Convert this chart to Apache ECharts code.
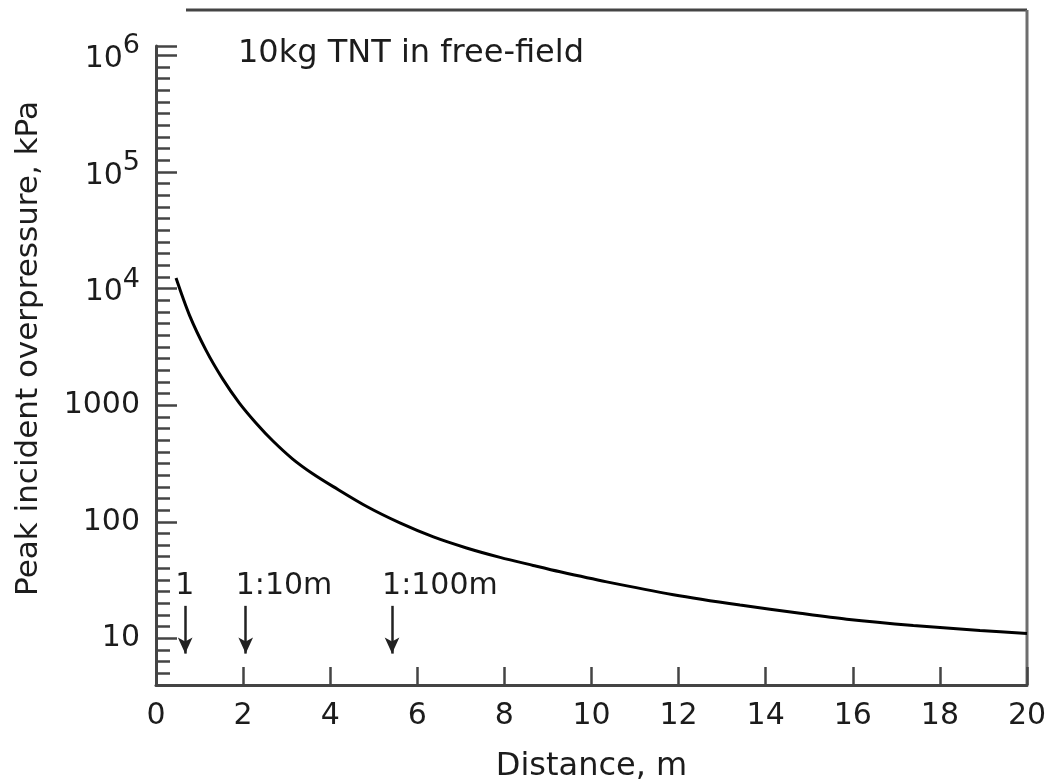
<!DOCTYPE html>
<html>
<head>
<meta charset="utf-8">
<script src="https://cdn.jsdelivr.net/npm/echarts@6/dist/echarts.min.js"></script>
<style>
  html, body { margin: 0; padding: 0; background: #fff; }
  #chart { width: 1052px; height: 780px; }
</style>
</head>
<body>
<div id="chart"></div>
<script>
// curve: distance (m) and peak overpressure (kPa)
var distance = [0.46, 0.77, 1.15, 1.53, 1.91, 2.30, 2.68, 3.14, 3.60, 4.07, 4.84, 5.60, 6.37, 7.13, 7.90, 8.66, 9.28, 10.35, 11.88, 13.41, 14.79, 15.86, 17.39, 18.92, 20];
var pressure = [12300, 5890, 2950, 1680, 1047, 700, 495, 345, 258, 200, 135, 97.7, 74.1, 59.6, 49.5, 42.2, 37.2, 30.5, 23.7, 19.3, 16.4, 14.6, 12.9, 11.7, 11.0];

// scale arrows near the bottom
var arrowX = [0.67, 2.06, 5.42];
var arrowText = ['1', '1:10m', '1:100m'];
var arrowTop = 19;
var arrowBottom = 7.4;
var arrowTextY = 28;

// axis ranges / ticks
var xTicks = [0, 2, 4, 6, 8, 10, 12, 14, 16, 18, 20];
var yLogMin = 0.6, yLogMax = 6.08;

(function () {
  var myChart = echarts.init(document.getElementById('chart'));
  var font = 'DejaVu Sans';
  var ink = '#1c1c1c';
  var axisCol = '#444';

  var curve = distance.map(function (d, i) { return [d, pressure[i]]; });
  var marks = arrowX.map(function (x, i) { return { value: [x, arrowTextY], name: arrowText[i] }; });
  var arrows = arrowX.map(function (x) {
    return [{ coord: [x, arrowTop] }, { coord: [x, arrowBottom] }];
  });

  var option = {
    animation: false,
    backgroundColor: '#fff',
    title: {
      text: '10kg TNT in free-field',
      left: 233, top: 33,
      textStyle: { fontFamily: font, fontSize: 32, fontWeight: 'normal', color: ink }
    },
    grid: { left: 156, right: 25, top: 46, bottom: 95, outerBoundsMode: 'none' },
    xAxis: {
      type: 'value',
      min: xTicks[0], max: xTicks[xTicks.length - 1], interval: 2,
      name: 'Distance, m',
      nameLocation: 'middle', nameGap: 66,
      nameTextStyle: { fontFamily: font, fontSize: 32, color: ink },
      axisLine: { lineStyle: { color: axisCol, width: 3 } },
      axisTick: { inside: true, length: 18, lineStyle: { color: axisCol, width: 2.5 } },
      axisLabel: { margin: 16, fontFamily: font, fontSize: 30, color: ink },
      splitLine: { show: false }
    },
    yAxis: [{
      type: 'log',
      logBase: 10,
      min: Math.pow(10, yLogMin), max: Math.pow(10, yLogMax),
      name: 'Peak incident overpressure, kPa',
      nameLocation: 'middle', nameGap: 112, nameRotate: 90,
      nameTextStyle: { fontFamily: font, fontSize: 31, color: ink, padding: [0, 0, 0, 34] },
      axisLine: { show: true, lineStyle: { color: axisCol, width: 3 } },
      axisTick: { inside: true, length: 21, lineStyle: { color: axisCol, width: 2.5 } },
      axisLabel: {
        margin: 16, fontFamily: font, fontSize: 30, color: ink,
        formatter: function (v) {
          var lg = Math.log(v) / Math.LN10;
          var e = Math.round(lg);
          if (Math.abs(lg - e) > 1e-6) return '';
          if (e >= 4) return '{bb|10}{s|' + e + '}';
          return '{b|' + String(Math.pow(10, e)) + '}';
        },
        rich: {
          b: { fontFamily: font, fontSize: 30, color: ink },
          bb: { fontFamily: font, fontSize: 30, color: ink, padding: [8, 0, 0, 0] },
          s: { fontFamily: font, fontSize: 27, color: ink, padding: [0, 0, 18, 0] }
        }
      },
      splitLine: { show: false }
    }, {
      // minor ticks, ten per decade
      type: 'value',
      min: yLogMin, max: yLogMax, interval: 0.1,
      position: 'left',
      axisLine: { show: false },
      axisTick: { inside: true, length: 14, lineStyle: { color: axisCol, width: 2.5 } },
      axisLabel: { show: false },
      splitLine: { show: false }
    }],
    graphic: [
      { type: 'line', shape: { x1: 186, y1: 10, x2: 1027, y2: 10 }, style: { stroke: axisCol, lineWidth: 3 } },
      { type: 'line', shape: { x1: 1027, y1: 10, x2: 1027, y2: 685 }, style: { stroke: '#6e6e6e', lineWidth: 3 } }
    ],
    series: [
      {
        name: 'overpressure',
        type: 'line',
        data: curve,
        smooth: 0.3,
        showSymbol: false,
        lineStyle: { color: '#000', width: 3 }
      },
      {
        name: 'scale',
        type: 'scatter',
        data: marks,
        symbolSize: 0,
        itemStyle: { opacity: 1 },
        label: {
          show: true,
          position: [-10, 0],
          align: 'left', verticalAlign: 'middle',
          formatter: '{b}',
          fontFamily: font, fontSize: 30, color: ink, opacity: 1
        },
        markLine: {
          silent: true,
          symbol: ['none', 'arrow'],
          symbolSize: [11, 16],
          label: { show: false },
          lineStyle: { color: '#222', width: 2.5, type: 'solid' },
          data: arrows
        }
      }
    ]
  };

  myChart.setOption(option);
})();
</script>
</body>
</html>
